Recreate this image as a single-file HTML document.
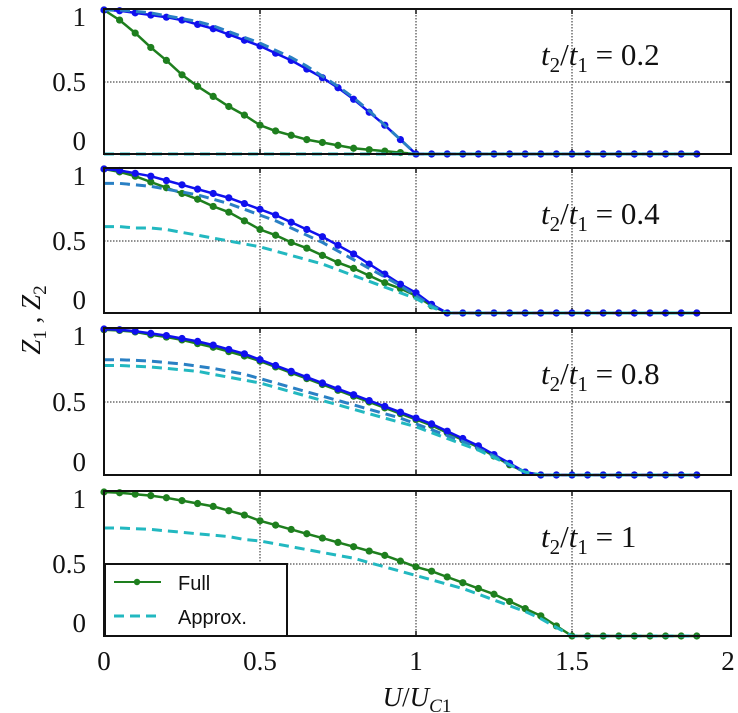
<!DOCTYPE html>
<html><head><meta charset="utf-8"><style>
body{margin:0;background:#fff;}
svg{display:block;}
.tk{font-family:"Liberation Serif",serif;font-size:27px;fill:#111;}
.ann{font-family:"Liberation Serif",serif;font-size:31px;fill:#111;}
.lg{font-family:"Liberation Sans",sans-serif;font-size:20px;fill:#111;}
</style></head><body>
<svg id="chart" width="738" height="713" xmlns="http://www.w3.org/2000/svg"></svg>
<script>
const xStep = 0.05;
const xTicks = [0, 0.5, 1, 1.5, 2];
const xTickLabels = ["0", "0.5", "1", "1.5", "2"];
const yTicks = [0, 0.5, 1];
const yTickLabels = ["0", "0.5", "1"];
const ratioLabels = ["0.2", "0.4", "0.8", "1"];
const z = n => Array(n).fill(0);
// panel 1 (t2/t1=0.2)
const p1FullZ1 = [1.00,0.995,0.98,0.965,0.95,0.93,0.90,0.87,0.83,0.79,0.75,0.70,0.65,0.59,0.53,0.46,0.38,0.29,0.20,0.10,0].concat(z(18));
const p1ApproxZ1 = [1.0,1.0,0.99,0.98,0.96,0.94,0.92,0.89,0.85,0.81,0.77,0.72,0.67,0.61,0.54,0.47,0.39,0.30,0.20,0.10,0].concat(z(18));
const p1FullZ2 = [1.0,0.93,0.84,0.74,0.65,0.55,0.47,0.40,0.33,0.27,0.20,0.16,0.13,0.10,0.08,0.06,0.04,0.03,0.02,0.01,0].concat(z(18));
const p1ApproxZ2 = z(39);
// panel 2 (0.4)
const p2FullZ1 = [1.0,0.99,0.97,0.95,0.92,0.89,0.86,0.83,0.80,0.76,0.72,0.68,0.63,0.58,0.53,0.47,0.41,0.34,0.27,0.20,0.14,0.06,0].concat(z(16));
const p2FullZ2 = [1.0,0.98,0.95,0.91,0.87,0.83,0.79,0.74,0.70,0.64,0.58,0.54,0.49,0.45,0.40,0.35,0.31,0.26,0.21,0.17,0.12,0.05,0].concat(z(16));
const p2ApproxZ1 = [0.90,0.90,0.89,0.88,0.86,0.84,0.82,0.79,0.76,0.72,0.68,0.64,0.59,0.54,0.49,0.43,0.37,0.31,0.25,0.19,0.12,0.05,0].concat(z(16));
const p2ApproxZ2 = [0.60,0.60,0.59,0.59,0.58,0.56,0.54,0.52,0.50,0.48,0.46,0.43,0.40,0.37,0.34,0.30,0.26,0.22,0.18,0.14,0.10,0.04,0].concat(z(16));
// panel 3 (0.8)
const p3FullZ1 = [1.0,0.995,0.985,0.97,0.955,0.935,0.915,0.89,0.86,0.83,0.79,0.75,0.71,0.67,0.63,0.59,0.55,0.51,0.47,0.43,0.39,0.35,0.30,0.25,0.20,0.14,0.08,0.02].concat(z(11));
const p3FullZ2 = [0.995,0.99,0.98,0.96,0.945,0.925,0.90,0.875,0.845,0.815,0.78,0.74,0.70,0.66,0.62,0.58,0.54,0.50,0.46,0.42,0.38,0.34,0.29,0.24,0.19,0.13,0.07,0.02].concat(z(11));
const p3ApproxZ1 = [0.79,0.79,0.785,0.78,0.77,0.76,0.745,0.73,0.71,0.69,0.66,0.63,0.60,0.57,0.54,0.51,0.48,0.45,0.42,0.39,0.35,0.31,0.27,0.23,0.18,0.13,0.07,0.02].concat(z(11));
const p3ApproxZ2 = [0.75,0.75,0.745,0.74,0.73,0.72,0.71,0.69,0.67,0.65,0.63,0.60,0.57,0.54,0.51,0.48,0.45,0.42,0.39,0.36,0.33,0.29,0.25,0.21,0.17,0.12,0.07,0.02].concat(z(11));
// panel 4 (1)
const p4FullZ = [1.0,0.995,0.985,0.975,0.96,0.94,0.92,0.90,0.87,0.84,0.80,0.77,0.74,0.71,0.68,0.65,0.62,0.59,0.56,0.52,0.48,0.45,0.41,0.37,0.33,0.29,0.24,0.19,0.14,0.07,0].concat(z(8));
const p4ApproxZ = [0.75,0.75,0.745,0.74,0.73,0.72,0.71,0.70,0.69,0.67,0.66,0.64,0.62,0.60,0.58,0.56,0.54,0.51,0.48,0.45,0.42,0.39,0.36,0.33,0.29,0.25,0.21,0.17,0.12,0.06,0].concat(z(8));

const BLUE="#1010ee", GREEN="#1e7f1e", DBLUE="#2a80c4", CYAN="#22b8c0";
const panels = [
 {top:9,bottom:154,series:[[p1FullZ2,GREEN,0],[p1FullZ1,BLUE,0],[p1ApproxZ1,DBLUE,1],[p1ApproxZ2,CYAN,1]]},
 {top:168,bottom:313,series:[[p2FullZ2,GREEN,0],[p2FullZ1,BLUE,0],[p2ApproxZ1,DBLUE,1],[p2ApproxZ2,CYAN,1]]},
 {top:328,bottom:475,series:[[p3FullZ2,GREEN,0],[p3FullZ1,BLUE,0],[p3ApproxZ1,DBLUE,1],[p3ApproxZ2,CYAN,1]]},
 {top:491,bottom:636,series:[[p4FullZ,GREEN,0],[p4ApproxZ,CYAN,1]]}
];
const NS="http://www.w3.org/2000/svg";
const svg=document.getElementById('chart');
const X0=104, XS=312, XR=731;
const xs = v => X0 + v*XS;
function mk(tag, attrs, parent){const e=document.createElementNS(NS,tag);for(const k in attrs)e.setAttribute(k,attrs[k]);(parent||svg).appendChild(e);return e;}

panels.forEach((p,pi)=>{
  const ys = v => p.bottom - v*(p.bottom-p.top-1);
  const g=mk('g',{});
  
  
  [0.5,1,1.5].forEach(t=>{const l=mk('line',{x1:xs(t),x2:xs(t),y1:p.top,y2:p.bottom,stroke:'#222','stroke-width':1,'stroke-dasharray':'1.5,1.5'},g);
    
    mk('line',{x1:xs(t),x2:xs(t),y1:p.top,y2:p.top+5,stroke:'#111','stroke-width':1.5},g);
    mk('line',{x1:xs(t),x2:xs(t),y1:p.bottom-5,y2:p.bottom,stroke:'#111','stroke-width':1.5},g);});
  const gy=mk('line',{x1:X0,x2:XR,y1:ys(0.5),y2:ys(0.5),stroke:'#222','stroke-width':1,'stroke-dasharray':'1.5,1.5'},g);
  
  mk('line',{x1:XR-5,x2:XR,y1:ys(0.5),y2:ys(0.5),stroke:'#111','stroke-width':1.5},g);
  yTicks.forEach((t,i)=>{const tx=mk('text',{x:86,y:ys(t)+(t===1?16:t===0?-4:9),'text-anchor':'end',class:'tk'},g);tx.textContent=yTickLabels[i];
    });
  p.series.forEach(([vals,col,dashed])=>{
    const pts=vals.map((v,i)=>xs(i*xStep).toFixed(1)+','+ys(v).toFixed(1)).join(' ');
    const pl=mk('polyline',{points:pts,fill:'none',stroke:col,'stroke-width':dashed?3:2.5,'stroke-dasharray':dashed?'10,6':'none'},g);
    
    
    if(!dashed){vals.forEach((v,i)=>{const c=mk('circle',{cx:xs(i*xStep),cy:ys(v),r:3.6,fill:col},g);
      });}
  });
  const fr=mk('rect',{x:X0,y:p.top,width:XR-X0,height:p.bottom-p.top,fill:'none',stroke:'#111','stroke-width':2},g);
  
  const an=mk('text',{x:541,y:p.top+56,class:'ann'},g);
  an.innerHTML='<tspan font-style="italic">t</tspan><tspan font-size="21" dy="7">2</tspan><tspan dy="-7">/</tspan><tspan font-style="italic">t</tspan><tspan font-size="21" dy="7">1</tspan><tspan dy="-7"> = '+ratioLabels[pi]+'</tspan>';
  
});
xTicks.forEach((t,i)=>{const tx=mk('text',{x:xs(t),y:670,'text-anchor':'middle',class:'tk'});tx.textContent=xTickLabels[i];
  });
const xt=mk('text',{x:417,y:706,'text-anchor':'middle',class:'tk'});
xt.innerHTML='<tspan font-style="italic">U</tspan>/<tspan font-style="italic">U</tspan><tspan font-size="19" dy="6" font-style="italic">C</tspan><tspan font-size="19">1</tspan>';

const yt=mk('text',{x:0,y:0,'text-anchor':'middle',class:'tk',transform:'translate(40,320) rotate(-90)'});
yt.innerHTML='<tspan font-style="italic">Z</tspan><tspan font-size="19" dy="6">1</tspan><tspan dy="-6"> , </tspan><tspan font-style="italic">Z</tspan><tspan font-size="19" dy="6">2</tspan>';

const lg=mk('g',{});

mk('rect',{x:105,y:564,width:182,height:72,fill:'#fff',stroke:'#111','stroke-width':2},lg);
const l1=mk('line',{x1:114,x2:161,y1:582,y2:582,stroke:GREEN,'stroke-width':2},lg);

mk('circle',{cx:137,cy:582,r:3.2,fill:GREEN},lg);
const t1=mk('text',{x:178,y:590,class:'lg'},lg);t1.textContent='Full';

const l2=mk('line',{x1:114,x2:161,y1:616,y2:616,stroke:CYAN,'stroke-width':3,'stroke-dasharray':'10,6'},lg);

const t2=mk('text',{x:178,y:624,class:'lg'},lg);t2.textContent='Approx.';

</script>
</body></html>
